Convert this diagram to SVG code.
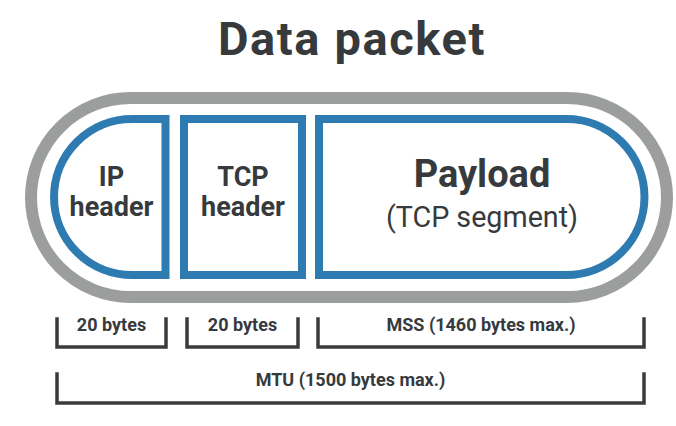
<svg xmlns="http://www.w3.org/2000/svg" width="676" height="426" viewBox="0 0 676 426">
<style>
.t{font-family:Roboto,"Liberation Sans",sans-serif;fill:#363a3d;text-anchor:middle}
.b{font-weight:bold}
.blue{fill:none;stroke:#2d7bb0;stroke-width:8}
.br{fill:none;stroke:#383b3d;stroke-width:3.5;stroke-linecap:square}
</style>
<rect width="676" height="426" fill="#ffffff"/>
<text class="t b" x="352" y="55" font-size="47" letter-spacing="1.6">Data packet</text>
<g id="packet">
<rect x="31" y="98" width="636" height="199" rx="99.5" ry="99.5" fill="none" stroke="#9c9d9d" stroke-width="12"/>
</g>
<g id="ip-header">
<path class="blue" d="M165.5 119 H132 A78 78 0 0 0 132 275 H165.5 Z"/>
<text class="t b" x="111.5" y="186" font-size="27">IP</text>
<text class="t b" x="111.5" y="216" font-size="27">header</text>
</g>
<g id="tcp-header">
<rect class="blue" x="184" y="119" width="118" height="156"/>
<text class="t b" x="243" y="186" font-size="27">TCP</text>
<text class="t b" x="243" y="216" font-size="27">header</text>
</g>
<g id="payload">
<path class="blue" d="M319 119 H566.5 A78 78 0 0 1 566.5 275 H319 Z"/>
<text class="t b" x="482" y="187" font-size="38">Payload</text>
<text class="t" x="482" y="227" font-size="28.7">(TCP segment)</text>
</g>
<g id="connectors">
<path class="br" d="M57 319 V347 H166 V319"/>
<path class="br" d="M187 319 V347 H298 V319"/>
<path class="br" d="M318 319 V347 H644 V319"/>
<path class="br" d="M57 374 V403 H644 V374"/>
</g>
<g id="labels">
<text class="t b" x="111.5" y="331" font-size="18">20 bytes</text>
<text class="t b" x="242.5" y="331" font-size="18">20 bytes</text>
<text class="t b" x="481" y="331" font-size="18">MSS (1460 bytes max.)</text>
<text class="t b" x="350.5" y="386" font-size="18">MTU (1500 bytes max.)</text>
</g>
</svg>
